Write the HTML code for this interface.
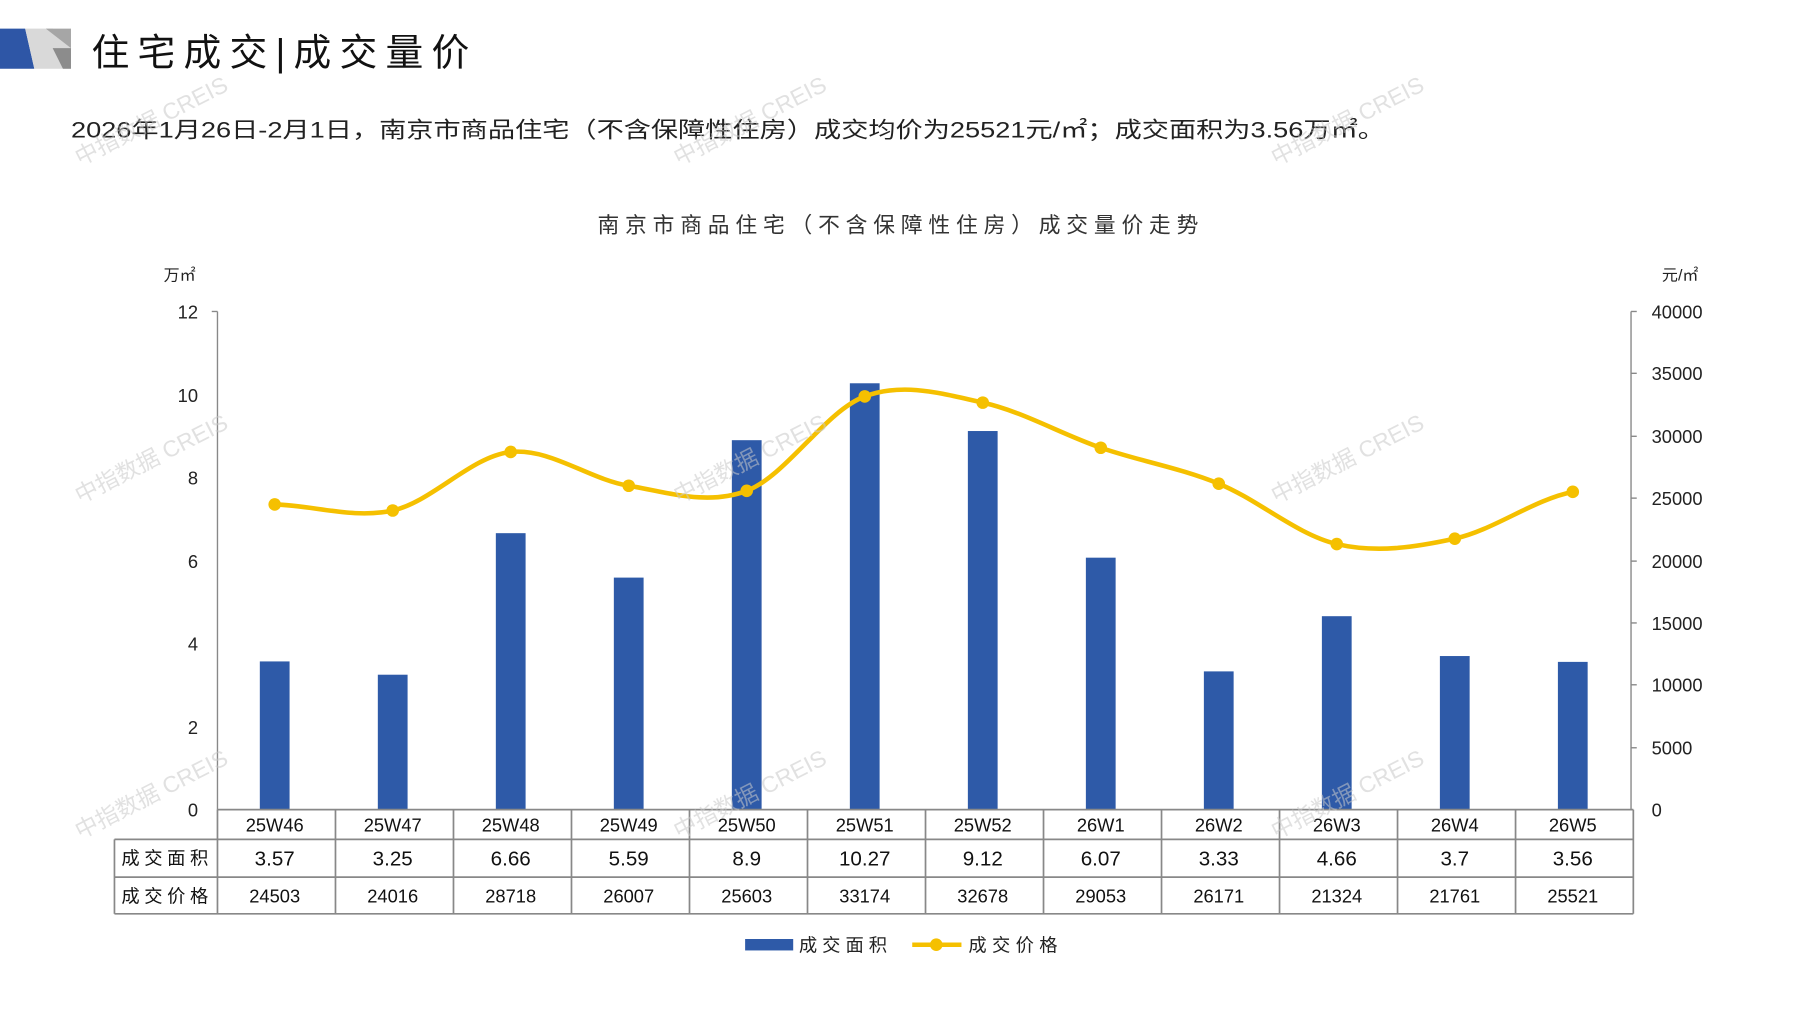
<!DOCTYPE html>
<html><head><meta charset="utf-8"><style>
html,body{margin:0;padding:0;background:#fff;}
svg{display:block;}
text{font-family:"Liberation Sans","Noto Sans CJK SC",sans-serif;}
</style></head><body>
<svg width="1797" height="1010" viewBox="0 0 1570 882" preserveAspectRatio="none" xmlns="http://www.w3.org/2000/svg">
<polygon points="0,25 22,25 30,60 0,60" fill="#2E56A6"/>
<polygon points="22,25 46,25 62,42 62,60 30,60" fill="#d9d9d9"/>
<polygon points="40,25 62,25 62,42" fill="#a6a6a6"/>
<polygon points="46,42 62,42 62,60 55,60" fill="#8c8c8c"/>
<text x="80" y="57" font-size="33" fill="#111" textLength="330" lengthAdjust="spacing">住宅成交|成交量价</text>
<text x="62" y="120" font-size="19.5" fill="#222" textLength="1148" lengthAdjust="spacingAndGlyphs">2026年1月26日-2月1日，南京市商品住宅（不含保障性住房）成交均价为25521元/㎡；成交面积为3.56万㎡。</text>
<text x="522" y="203" font-size="19" fill="#333" textLength="525" lengthAdjust="spacing">南京市商品住宅（不含保障性住房）成交量价走势</text>
<text x="143" y="245" font-size="14" fill="#222">万㎡</text>
<text x="1452" y="245" font-size="14" fill="#222">元/㎡</text>
<g stroke="#888" stroke-width="1.2" fill="none">
<line x1="190" y1="272" x2="190" y2="707"/>
<line x1="1425" y1="272" x2="1425" y2="707"/>
<line x1="185" y1="272" x2="190" y2="272"/>
<line x1="1425" y1="272" x2="1430" y2="272"/>
<line x1="1425" y1="326" x2="1430" y2="326"/><line x1="1425" y1="381" x2="1430" y2="381"/><line x1="1425" y1="435" x2="1430" y2="435"/><line x1="1425" y1="490" x2="1430" y2="490"/><line x1="1425" y1="544" x2="1430" y2="544"/><line x1="1425" y1="598" x2="1430" y2="598"/><line x1="1425" y1="653" x2="1430" y2="653"/>
</g>
<g font-size="16" fill="#222" text-anchor="end">
<text x="173" y="278">12</text><text x="173" y="351">10</text><text x="173" y="423">8</text><text x="173" y="496">6</text><text x="173" y="568">4</text><text x="173" y="641">2</text><text x="173" y="713">0</text>
</g>
<g font-size="16" fill="#222">
<text x="1443" y="278">40000</text><text x="1443" y="332">35000</text><text x="1443" y="387">30000</text><text x="1443" y="441">25000</text><text x="1443" y="496">20000</text><text x="1443" y="550">15000</text><text x="1443" y="604">10000</text><text x="1443" y="659">5000</text><text x="1443" y="713">0</text>
</g>
<g fill="#2E5AA8">
<rect x="227" y="577.6" width="26" height="129.4"/>
<rect x="330.1" y="589.2" width="26" height="117.8"/>
<rect x="433.2" y="465.6" width="26" height="241.4"/>
<rect x="536.3" y="504.4" width="26" height="202.6"/>
<rect x="639.4" y="384.4" width="26" height="322.6"/>
<rect x="742.5" y="334.7" width="26" height="372.3"/>
<rect x="845.6" y="376.4" width="26" height="330.6"/>
<rect x="948.7" y="487" width="26" height="220"/>
<rect x="1051.8" y="586.3" width="26" height="120.7"/>
<rect x="1154.9" y="538.1" width="26" height="168.9"/>
<rect x="1258" y="572.9" width="26" height="134.1"/>
<rect x="1361.1" y="578" width="26" height="129"/>
</g>
<path fill="none" stroke="#F5C000" stroke-width="4" d="M240,440.5 C274.4,441.4 308.7,453.4 343.1,445.8 C377.5,438.2 411.8,398.3 446.2,394.7 C480.6,391.1 514.9,418.6 549.3,424.2 C583.7,429.9 618,441.6 652.4,428.6 C686.8,415.6 721.1,359 755.5,346.2 C789.9,333.4 824.2,344.1 858.6,351.6 C893,359.1 927.3,379.2 961.7,391 C996.1,402.8 1030.4,408.4 1064.8,422.4 C1099.2,436.4 1133.5,467.1 1167.9,475.1 C1202.3,483.1 1236.6,478 1271,470.4 C1305.4,462.8 1339.7,436.3 1374.1,429.5"/>
<g fill="#F5C000">
<circle cx="240" cy="440.5" r="5.5"/><circle cx="343.1" cy="445.8" r="5.5"/><circle cx="446.2" cy="394.7" r="5.5"/><circle cx="549.3" cy="424.2" r="5.5"/><circle cx="652.4" cy="428.6" r="5.5"/><circle cx="755.5" cy="346.2" r="5.5"/><circle cx="858.6" cy="351.6" r="5.5"/><circle cx="961.7" cy="391" r="5.5"/><circle cx="1064.8" cy="422.4" r="5.5"/><circle cx="1167.9" cy="475.1" r="5.5"/><circle cx="1271" cy="470.4" r="5.5"/><circle cx="1374.1" cy="429.5" r="5.5"/>
</g>
<g stroke="#888" stroke-width="1.5" fill="none">
<line x1="190" y1="707" x2="1427" y2="707"/>
<line x1="100" y1="733" x2="1427" y2="733"/>
<line x1="100" y1="766" x2="1427" y2="766"/>
<line x1="100" y1="798" x2="1427" y2="798"/>
<line x1="100" y1="733" x2="100" y2="798"/>
<line x1="190" y1="707" x2="190" y2="798"/>
<line x1="293.1" y1="707" x2="293.1" y2="798"/><line x1="396.2" y1="707" x2="396.2" y2="798"/><line x1="499.3" y1="707" x2="499.3" y2="798"/><line x1="602.4" y1="707" x2="602.4" y2="798"/><line x1="705.5" y1="707" x2="705.5" y2="798"/><line x1="808.6" y1="707" x2="808.6" y2="798"/><line x1="911.7" y1="707" x2="911.7" y2="798"/><line x1="1014.8" y1="707" x2="1014.8" y2="798"/><line x1="1117.9" y1="707" x2="1117.9" y2="798"/><line x1="1221" y1="707" x2="1221" y2="798"/><line x1="1324.1" y1="707" x2="1324.1" y2="798"/><line x1="1427" y1="707" x2="1427" y2="798"/>
</g>
<g font-size="16" fill="#111" text-anchor="middle">
<text x="240" y="726">25W46</text><text x="343.1" y="726">25W47</text><text x="446.2" y="726">25W48</text><text x="549.3" y="726">25W49</text><text x="652.4" y="726">25W50</text><text x="755.5" y="726">25W51</text><text x="858.6" y="726">25W52</text><text x="961.7" y="726">26W1</text><text x="1064.8" y="726">26W2</text><text x="1167.9" y="726">26W3</text><text x="1271" y="726">26W4</text><text x="1374.1" y="726">26W5</text>
<text x="144" y="755" font-size="16" textLength="76" lengthAdjust="spacing">成交面积</text>
<text x="240" y="756" font-size="18">3.57</text><text x="343.1" y="756" font-size="18">3.25</text><text x="446.2" y="756" font-size="18">6.66</text><text x="549.3" y="756" font-size="18">5.59</text><text x="652.4" y="756" font-size="18">8.9</text><text x="755.5" y="756" font-size="18">10.27</text><text x="858.6" y="756" font-size="18">9.12</text><text x="961.7" y="756" font-size="18">6.07</text><text x="1064.8" y="756" font-size="18">3.33</text><text x="1167.9" y="756" font-size="18">4.66</text><text x="1271" y="756" font-size="18">3.7</text><text x="1374.1" y="756" font-size="18">3.56</text>
<text x="144" y="788" font-size="16" textLength="76" lengthAdjust="spacing">成交价格</text>
<text x="240" y="788">24503</text><text x="343.1" y="788">24016</text><text x="446.2" y="788">28718</text><text x="549.3" y="788">26007</text><text x="652.4" y="788">25603</text><text x="755.5" y="788">33174</text><text x="858.6" y="788">32678</text><text x="961.7" y="788">29053</text><text x="1064.8" y="788">26171</text><text x="1167.9" y="788">21324</text><text x="1271" y="788">21761</text><text x="1374.1" y="788">25521</text>
</g>
<rect x="651" y="820" width="42" height="10" fill="#2E5AA8"/>
<text x="698" y="831" font-size="16" fill="#222" textLength="77" lengthAdjust="spacing">成交面积</text>
<line x1="797" y1="825" x2="840" y2="825" stroke="#F5C000" stroke-width="4"/>
<circle cx="818" cy="825" r="5.5" fill="#F5C000"/>
<text x="846" y="831" font-size="16" fill="#222" textLength="78" lengthAdjust="spacing">成交价格</text>
<g font-size="20" fill="#c8c8c8" fill-opacity="0.55">
<text transform="translate(70,145) rotate(-27)">中指数据 CREIS</text>
<text transform="translate(593,145) rotate(-27)">中指数据 CREIS</text>
<text transform="translate(1115,145) rotate(-27)">中指数据 CREIS</text>
<text transform="translate(70,440) rotate(-27)">中指数据 CREIS</text>
<text transform="translate(593,440) rotate(-27)">中指数据 CREIS</text>
<text transform="translate(1115,440) rotate(-27)">中指数据 CREIS</text>
<text transform="translate(70,733) rotate(-27)">中指数据 CREIS</text>
<text transform="translate(593,733) rotate(-27)">中指数据 CREIS</text>
<text transform="translate(1115,733) rotate(-27)">中指数据 CREIS</text>
</g>
</svg>
</body></html>
